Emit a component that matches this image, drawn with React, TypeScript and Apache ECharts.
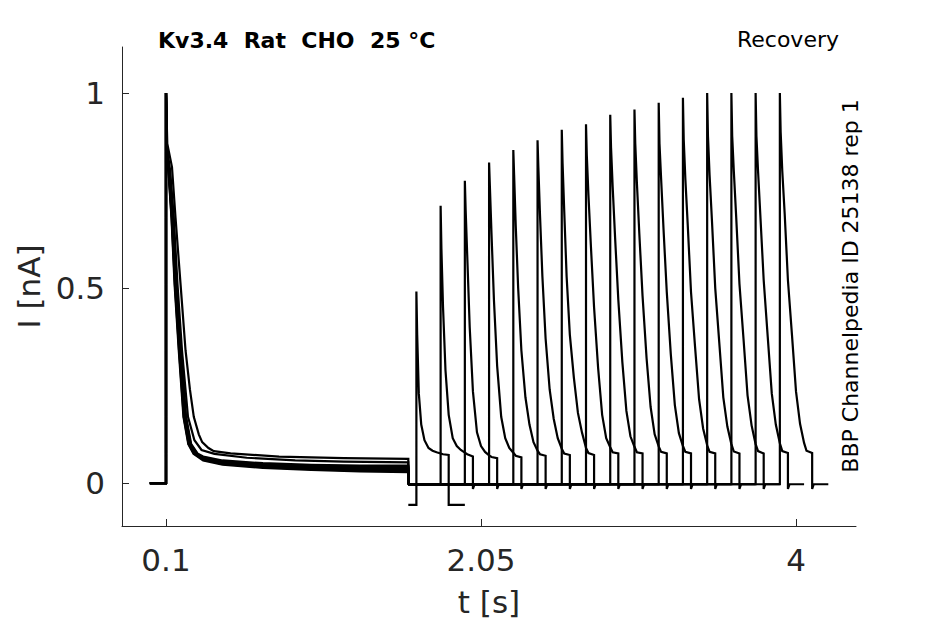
import React, { useEffect, useRef } from "react";
import * as echarts from "echarts";

// ---- tick labels ----
const xTicks = [0.1, 2.05, 4];
const yTicks = [0, 0.5, 1];

// ---- first (conditioning) pulse ----
const firstPulseStart: [number, number][] = [[0, 0], [0.1, 0], [0.1, 1.0]];
const firstPulseEnd = 1.6;
const holdingLevel = -0.003;
// current levels (nA) at which the decay times of the dense band were read
const bandDecayLevels = [0.85, 0.8, 0.68, 0.51, 0.34, 0.17, 0.1, 0.075];
// times (s) of those levels for each trace of the band
const bandDecayTimes1 = [0.104, 0.115, 0.134, 0.153, 0.179, 0.208, 0.238, 0.27];
const bandDecayTimes2 = [0.104, 0.116, 0.135, 0.155, 0.181, 0.21, 0.24, 0.275];
const bandDecayTimes3 = [0.104, 0.117, 0.137, 0.157, 0.183, 0.213, 0.243, 0.28];
const bandDecayTimes4 = [0.105, 0.118, 0.138, 0.159, 0.185, 0.215, 0.246, 0.284];
const bandDecayTimes5 = [0.105, 0.119, 0.14, 0.161, 0.187, 0.218, 0.248, 0.288];
const bandDecayTimes6 = [0.105, 0.12, 0.142, 0.163, 0.189, 0.22, 0.251, 0.29];
const bandDecayTimes7 = [0.105, 0.121, 0.143, 0.164, 0.19, 0.222, 0.253, 0.293];
const bandDecayTimes8 = [0.106, 0.122, 0.145, 0.166, 0.192, 0.224, 0.256, 0.297];
// steady-state part of the band
const bandSteadyTimes = [0.33, 0.45, 0.7, 1.0, 1.3, 1.6];
const bandSteady1 = [0.058, 0.047, 0.039, 0.034, 0.03, 0.028];
const bandSteady2 = [0.06, 0.049, 0.041, 0.036, 0.032, 0.031];
const bandSteady3 = [0.061, 0.05, 0.043, 0.038, 0.034, 0.033];
const bandSteady4 = [0.062, 0.052, 0.044, 0.039, 0.036, 0.035];
const bandSteady5 = [0.064, 0.053, 0.046, 0.041, 0.038, 0.037];
const bandSteady6 = [0.065, 0.055, 0.047, 0.043, 0.04, 0.04];
const bandSteady7 = [0.066, 0.056, 0.049, 0.045, 0.043, 0.042];
const bandSteady8 = [0.068, 0.058, 0.051, 0.047, 0.045, 0.045];
const bandDecayTimes = [bandDecayTimes1, bandDecayTimes2, bandDecayTimes3, bandDecayTimes4, bandDecayTimes5, bandDecayTimes6, bandDecayTimes7, bandDecayTimes8];
const bandSteady = [bandSteady1, bandSteady2, bandSteady3, bandSteady4, bandSteady5, bandSteady6, bandSteady7, bandSteady8];
// two slower traces above the band, [t (s), I (nA)]
const firstPulseUpper: [number, number][] = [[0.106, 0.86], [0.126, 0.8], [0.148, 0.68], [0.171, 0.51], [0.199, 0.34], [0.236, 0.17], [0.276, 0.11], [0.32, 0.085], [0.4, 0.075], [0.6, 0.065], [0.9, 0.058], [1.2, 0.055], [1.6, 0.053]];
const firstPulseOutlier: [number, number][] = [[0.108, 0.87], [0.137, 0.81], [0.159, 0.68], [0.19, 0.51], [0.221, 0.34], [0.248, 0.24], [0.272, 0.17], [0.303, 0.125], [0.324, 0.105], [0.363, 0.09], [0.396, 0.082], [0.5, 0.076], [0.8, 0.068], [1.2, 0.064], [1.6, 0.062]];

// ---- test pulse traces ----
const testPulseStart = [1.65, 1.8, 1.95, 2.1, 2.25, 2.4, 2.55, 2.7, 2.85, 3.0, 3.15, 3.3, 3.45, 3.6, 3.75, 3.9];
const testHolding = [-0.056, -0.003, -0.003, -0.003, -0.003, -0.003, -0.003, -0.003, -0.003, -0.003, -0.003, -0.003, -0.003, -0.003, -0.003, -0.003];
const testTailDip = [-0.056, -0.015, -0.015, -0.015, -0.015, -0.015, -0.015, -0.015, -0.015, -0.015, -0.015, -0.015, -0.015, -0.015, -0.015, -0.015];
// time after test-pulse onset (s) at which the decay was read
const decayTime = [0, 0.005, 0.015, 0.03, 0.05, 0.075, 0.1, 0.125, 0.15, 0.165, 0.2];
const decay1 = [0.491, 0.38, 0.23, 0.15, 0.11, 0.09, 0.083, 0.079, 0.076, 0.074, 0.072];
const decay2 = [0.711, 0.6, 0.45, 0.29, 0.175, 0.115, 0.095, 0.085, 0.078, 0.074, 0.068];
const decay3 = [0.775, 0.7, 0.58, 0.4, 0.235, 0.13, 0.095, 0.08, 0.071, 0.067, 0.064];
const decay4 = [0.822, 0.76, 0.64, 0.47, 0.3, 0.17, 0.115, 0.09, 0.078, 0.07, 0.066];
const decay5 = [0.854, 0.79, 0.66, 0.5, 0.34, 0.22, 0.15, 0.105, 0.083, 0.074, 0.07];
const decay6 = [0.879, 0.81, 0.69, 0.53, 0.37, 0.24, 0.165, 0.115, 0.088, 0.076, 0.072];
const decay7 = [0.906, 0.82, 0.7, 0.53, 0.38, 0.27, 0.18, 0.13, 0.09, 0.077, 0.072];
const decay8 = [0.92, 0.84, 0.74, 0.61, 0.45, 0.295, 0.175, 0.115, 0.092, 0.079, 0.076];
const decay9 = [0.944, 0.86, 0.76, 0.63, 0.47, 0.31, 0.185, 0.12, 0.093, 0.079, 0.076];
const decay10 = [0.958, 0.87, 0.77, 0.64, 0.48, 0.32, 0.195, 0.125, 0.094, 0.08, 0.076];
const decay11 = [0.975, 0.87, 0.78, 0.65, 0.49, 0.33, 0.2, 0.128, 0.095, 0.08, 0.076];
const decay12 = [0.988, 0.88, 0.78, 0.66, 0.49, 0.35, 0.215, 0.14, 0.097, 0.08, 0.076];
const decay13 = [1.0, 0.89, 0.79, 0.67, 0.5, 0.36, 0.22, 0.145, 0.1, 0.081, 0.076];
const decay14 = [1.0, 0.89, 0.8, 0.68, 0.51, 0.37, 0.225, 0.148, 0.1, 0.082, 0.076];
const decay15 = [1.0, 0.89, 0.8, 0.68, 0.52, 0.375, 0.23, 0.15, 0.102, 0.082, 0.077];
const decay16 = [1.0, 0.9, 0.8, 0.69, 0.52, 0.38, 0.235, 0.152, 0.103, 0.083, 0.077];
const testDecays = [decay1, decay2, decay3, decay4, decay5, decay6, decay7, decay8, decay9, decay10, decay11, decay12, decay13, decay14, decay15, decay16];
const testPulseLength = 0.2;
const afterPulseLength = 0.1;

const FONT = "DejaVu Sans";
const AXIS = "#262626";

export default function App() {
  const ref = useRef<HTMLDivElement>(null);

  useEffect(() => {
    document.body.style.margin = "0";
    if (!ref.current) return;
    const chart = echarts.init(ref.current, null, { renderer: "svg" });

    const closeFirst = (pts: [number, number][]): [number, number][] => [...firstPulseStart, ...pts, [firstPulseEnd, holdingLevel]];

    const bandTraces = bandDecayTimes.map((times, k) => {
      const pts: [number, number][] = times.map((t, i) => [t, bandDecayLevels[i]]);
      bandSteadyTimes.forEach((t, i) => pts.push([t, bandSteady[k][i]]));
      return closeFirst(pts);
    });
    const firstTraces = [...bandTraces, closeFirst(firstPulseUpper), closeFirst(firstPulseOutlier)];

    const testTraces = testPulseStart.map((s, k) => {
      const pts: [number, number][] = [[firstPulseEnd, testHolding[k]], [s, testHolding[k]]];
      testDecays[k].forEach((v, i) => pts.push([s + decayTime[i], v]));
      const end = s + testPulseLength;
      pts.push([end, testTailDip[k]]);
      pts.push([end + 0.01, testHolding[k]]);
      pts.push([end + afterPulseLength, testHolding[k]]);
      return pts;
    });

    const lineSeries = (data: [number, number][]) => ({
      type: "line",
      data,
      showSymbol: false,
      symbol: "none",
      lineStyle: { color: "#000", width: 2.2, join: "miter" },
      silent: true,
      clip: true,
    });

    chart.setOption({
      animation: false,
      backgroundColor: "#fff",
      grid: { left: 122, right: 89, top: 47, bottom: 98, containLabel: false },
      xAxis: {
        type: "value",
        min: -0.1724,
        max: 4.3714,
        name: "t [s]",
        nameLocation: "middle",
        nameGap: 60,
        nameTextStyle: { fontFamily: FONT, fontSize: 31, color: AXIS },
        axisLine: { onZero: false, lineStyle: { color: AXIS, width: 1 } },
        axisTick: { show: true, inside: true, length: 7, customValues: xTicks, lineStyle: { color: AXIS } },
        axisLabel: { customValues: xTicks, fontFamily: FONT, fontSize: 31, color: AXIS, margin: 18 },
        splitLine: { show: false },
      },
      yAxis: {
        type: "value",
        min: -0.11,
        max: 1.118,
        name: "I [nA]",
        nameLocation: "middle",
        nameRotate: 90,
        nameGap: 74,
        nameTextStyle: { fontFamily: FONT, fontSize: 31, color: AXIS },
        axisLine: { onZero: false, lineStyle: { color: AXIS, width: 1 } },
        axisTick: { show: true, inside: true, length: 7, customValues: yTicks, lineStyle: { color: AXIS } },
        axisLabel: { customValues: yTicks, fontFamily: FONT, fontSize: 31, color: AXIS, margin: 17 },
        splitLine: { show: false },
      },
      graphic: [
        {
          type: "text",
          x: 158,
          y: 40,
          style: { text: "Kv3.4  Rat  CHO  25 °C", font: `bold 22px "${FONT}"`, fill: "#000", textAlign: "left", textVerticalAlign: "middle" },
        },
        {
          type: "text",
          x: 839,
          y: 39,
          style: { text: "Recovery", font: `22px "${FONT}"`, fill: "#000", textAlign: "right", textVerticalAlign: "middle" },
        },
        {
          type: "text",
          x: 850,
          y: 286,
          rotation: Math.PI / 2,
          style: { text: "BBP Channelpedia ID 25138 rep 1", font: `22px "${FONT}"`, fill: "#000", textAlign: "center", textVerticalAlign: "middle" },
        },
      ],
      series: [...firstTraces.map(lineSeries), ...testTraces.map(lineSeries)],
    });

    return () => chart.dispose();
  }, []);

  return <div ref={ref} style={{ width: 945, height: 624 }} />;
}
